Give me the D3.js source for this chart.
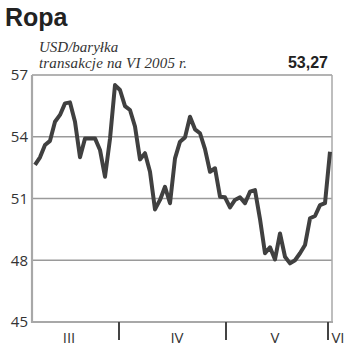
<!DOCTYPE html>
<html><head><meta charset="utf-8">
<script src="https://cdn.jsdelivr.net/npm/d3@7"></script>
<style>body{margin:0;background:#fff}svg{display:block}</style>
</head><body>
<script>
// Data
const prices = [52.63,53.0,53.6,53.8,54.73,55.06,55.62,55.67,54.73,53.0,
  53.92,53.92,53.92,53.36,52.06,53.9,56.51,56.27,55.49,55.3,
  54.5,52.9,53.2,52.3,50.47,50.93,51.57,50.77,52.95,53.76,
  53.97,54.97,54.36,54.17,53.4,52.3,52.47,51.09,51.06,50.57,
  50.93,51.06,50.77,51.33,51.41,50.0,48.34,48.63,48.04,49.3,
  48.17,47.85,48.0,48.34,48.74,50.04,50.15,50.68,50.77,53.27];
const yTicks = [45,48,51,54,57];
const monthTicks = [16.8, 38.2, 58.6];
const monthLabels = ["III","IV","V","VI"];
const monthLabelPos = [6.8, 28.4, 48, 60.6];
const title = "Ropa";
const subtitle = ["USD/baryłka","transakcje na VI 2005 r."];
const lastValue = "53,27";

const W=350,H=355;
const svg=d3.select("body").append("svg").attr("width",W).attr("height",H);
const x=d3.scaleLinear().domain([-0.6,59.4]).range([32,332]);
const y=d3.scaleLinear().domain([45,57]).range([322,75]);

svg.append("text").attr("x",5).attr("y",26).text(title)
  .attr("font-family","Liberation Sans, Arial, sans-serif").attr("font-weight","bold")
  .attr("font-size",25).attr("fill","#222");
subtitle.forEach((t,i)=>svg.append("text").attr("x",39).attr("y",52+i*16).text(t)
  .attr("font-family","Liberation Serif, serif").attr("font-style","italic")
  .attr("font-size",15).attr("textLength",i===1?148:null).attr("fill","#333"));
svg.append("text").attr("x",328).attr("y",68).attr("text-anchor","end").text(lastValue)
  .attr("font-family","Liberation Sans, Arial, sans-serif").attr("font-weight","bold")
  .attr("font-size",16).attr("fill","#222");

// gridlines
svg.append("g").selectAll("line").data(yTicks.filter(d=>d>45)).join("line")
  .attr("x1",32).attr("x2",332).attr("y1",d=>y(d)).attr("y2",d=>y(d))
  .attr("stroke","#9a9a9a").attr("stroke-width",1.5);

// y labels
svg.append("g").selectAll("text").data(yTicks).join("text")
  .attr("x",28).attr("y",d=>y(d)).attr("dy","0.36em").attr("text-anchor","end")
  .text(d=>d).attr("font-family","Open Sans, sans-serif").attr("font-size",15).attr("fill","#333");

// axes frame
svg.append("line").attr("x1",32).attr("x2",32).attr("y1",75).attr("y2",323)
  .attr("stroke","#a8a8a8").attr("stroke-width",2.2);
svg.append("line").attr("x1",332).attr("x2",332).attr("y1",75).attr("y2",323)
  .attr("stroke","#a8a8a8").attr("stroke-width",1.5);
svg.append("line").attr("x1",31).attr("x2",333).attr("y1",322).attr("y2",322)
  .attr("stroke","#a8a8a8").attr("stroke-width",2);

// month ticks
svg.append("g").selectAll("line").data(monthTicks).join("line")
  .attr("x1",d=>x(d)).attr("x2",d=>x(d)).attr("y1",322).attr("y2",340)
  .attr("stroke","#444").attr("stroke-width",2);
svg.append("g").selectAll("text").data(monthLabels).join("text")
  .attr("x",(d,i)=>x(monthLabelPos[i])).attr("y",343).attr("text-anchor","middle")
  .text(d=>d).attr("font-family","Open Sans, sans-serif").attr("font-size",15).attr("fill","#333");

// price line
const line=d3.line().x((d,i)=>x(i)).y(d=>y(d));
svg.append("path").datum(prices).attr("d",line).attr("fill","none")
  .attr("stroke","#404040").attr("stroke-width",4).attr("stroke-linejoin","round");
</script>
</body></html>
